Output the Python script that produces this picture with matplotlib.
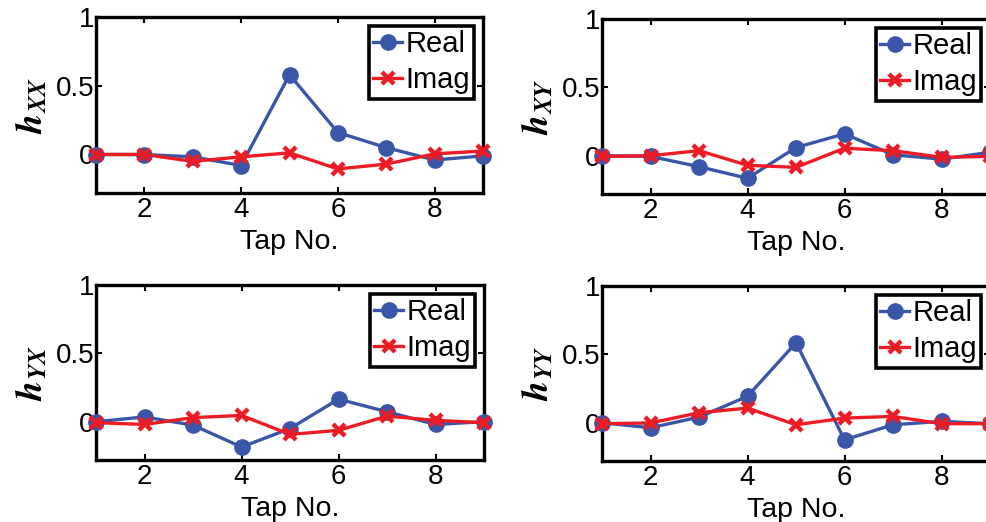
import matplotlib
matplotlib.use("Agg")
import matplotlib.pyplot as plt
import numpy as np

plt.rcParams['font.family'] = ['Liberation Sans', 'DejaVu Sans']
plt.rcParams['mathtext.fontset'] = 'stix'

taps = [1, 2, 3, 4, 5, 6, 7, 8, 9]

# Equalizer tap coefficients (real and imaginary parts)
hxx_real = [0.0, 0.0, -0.017, -0.08, 0.58, 0.16, 0.05, -0.04, -0.01]
hxx_imag = [0.0, 0.0, -0.05, -0.017, 0.012, -0.105, -0.07, 0.005, 0.025]

hxy_real = [0.0, -0.005, -0.08, -0.165, 0.06, 0.16, 0.007, -0.025, 0.025]
hxy_imag = [-0.005, 0.0, 0.037, -0.07, -0.085, 0.055, 0.037, -0.012, -0.005]

hyx_real = [0.0, 0.035, -0.025, -0.185, -0.05, 0.165, 0.073, -0.02, 0.0]
hyx_imag = [-0.007, -0.02, 0.03, 0.046, -0.093, -0.063, 0.041, 0.01, -0.007]

hyy_real = [0.0, -0.037, 0.041, 0.193, 0.585, -0.125, -0.015, 0.01, -0.007]
hyy_imag = [-0.007, -0.002, 0.073, 0.107, -0.015, 0.034, 0.046, -0.007, -0.007]

panel_names = ['XX', 'XY', 'YX', 'YY']
reals = [hxx_real, hxy_real, hyx_real, hyy_real]
imags = [hxx_imag, hxy_imag, hyx_imag, hyy_imag]

xticks = [2, 4, 6, 8]
yticks = [0, 0.5, 1]
ytick_labels = ['0', '0.5', '1']

blue = '#3A56A8'
red = '#ED1C24'

W, H = 986, 522
fig = plt.figure(figsize=(W / 100, H / 100), dpi=100)

# axes boxes in pixels: left, top, right, bottom
boxes = [(96, 17, 483, 193), (602, 19, 990, 194),
         (96, 285, 484, 460), (602, 286, 990, 461)]

for box, name, re, im in zip(boxes, panel_names, reals, imags):
    l, t, r, b = box
    ax = fig.add_axes([l / W, 1 - b / H, (r - l) / W, (b - t) / H])
    ax.plot(taps, re, '-o', color=blue, lw=2.4, ms=11, mfc=blue, mec=blue,
            label='Real', clip_on=False, zorder=3)
    ax.plot(taps, im, '-x', color=red, lw=2.4, ms=9, mew=3.2,
            label='Imag', clip_on=False, zorder=4)
    ax.set_xlim(1, 9)
    ax.set_ylim(-0.28, 1)
    ax.set_xticks(xticks)
    ax.set_yticks(yticks)
    ax.set_yticklabels(ytick_labels)
    ax.tick_params(direction='in', length=4, width=1.5, labelsize=20,
                   top=True, right=True, pad=3, color='black')
    ax.tick_params(axis='y', pad=1)
    for sp in ax.spines.values():
        sp.set_linewidth(2.4)
    ax.set_xlabel('Tap No.', fontsize=20.5, labelpad=4)
    ax.set_ylabel(r'$\mathbfit{h}_{\mathbfit{%s}}$' % name, fontsize=26,
                  labelpad=4)
    leg = ax.legend(loc='upper right', fontsize=21, handlelength=1.0,
                    handletextpad=0.1, labelspacing=0.28, borderpad=0.15,
                    borderaxespad=0.3, fancybox=False, framealpha=1,
                    edgecolor='black')
    leg.get_frame().set_linewidth(2.6)

fig.savefig('out.png', dpi=100)
